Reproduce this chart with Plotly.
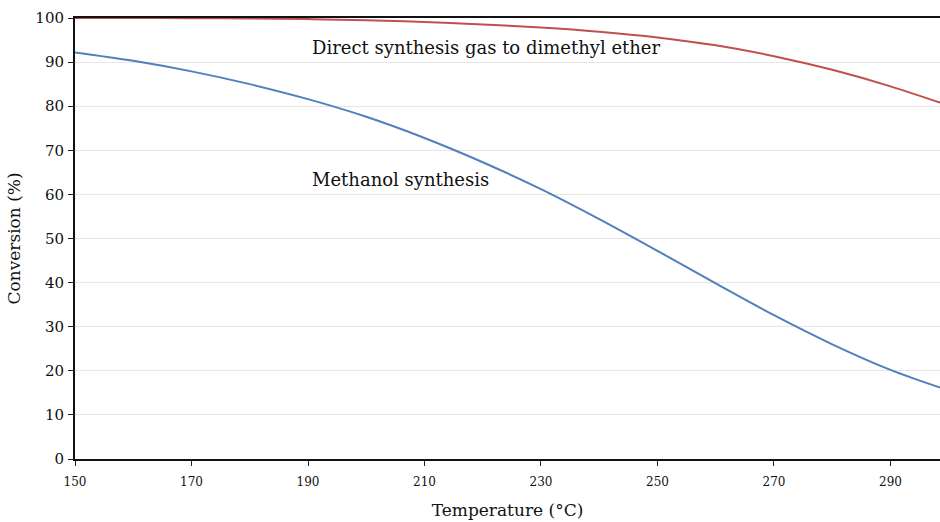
import plotly.graph_objects as go

# Temperature (°C) and conversion (%) for the two processes
temperature_c = [150, 160, 170, 180, 190, 200, 210, 220, 230, 240, 250, 260, 270, 280, 290, 298.5]
methanol_conv = [92.2, 90.3, 87.9, 85.0, 81.6, 77.6, 72.8, 67.3, 61.2, 54.4, 47.2, 39.8, 32.6, 26.0, 20.2, 16.2]
dme_conv = [100.0, 99.99, 99.96, 99.9, 99.75, 99.5, 99.1, 98.55, 97.85, 96.9, 95.6, 93.8, 91.35, 88.25, 84.5, 80.8]

x_ticks = [150, 170, 190, 210, 230, 250, 270, 290]
y_ticks = [0, 10, 20, 30, 40, 50, 60, 70, 80, 90, 100]

FONT = "DejaVu Serif"

fig = go.Figure()
fig.add_trace(go.Scatter(
    x=temperature_c, y=dme_conv, mode="lines",
    line=dict(color="#c0504d", width=2, shape="spline", smoothing=1.0),
    name="Direct synthesis gas to dimethyl ether", showlegend=False,
))
fig.add_trace(go.Scatter(
    x=temperature_c, y=methanol_conv, mode="lines",
    line=dict(color="#4f81bd", width=2, shape="spline", smoothing=1.0),
    name="Methanol synthesis", showlegend=False,
))

fig.add_annotation(x=190.3, y=93.4, text="Direct synthesis gas to dimethyl ether",
                   showarrow=False, xanchor="left", yanchor="middle",
                   font=dict(family=FONT, size=18, color="#111"))
fig.add_annotation(x=190.3, y=63.3, text="Methanol synthesis",
                   showarrow=False, xanchor="left", yanchor="middle",
                   font=dict(family=FONT, size=18, color="#111"))

fig.update_layout(
    width=940, height=522,
    margin=dict(l=75, r=0, t=18, b=63),
    paper_bgcolor="white", plot_bgcolor="white",
    font=dict(family=FONT, color="#111"),
)
fig.update_xaxes(
    range=[150, 298.5], tickvals=x_ticks, ticks="outside", ticklen=5,
    tickcolor="#222", tickwidth=1, showgrid=False, zeroline=False,
    showline=True, linecolor="#111", linewidth=2, mirror=True,
    tickfont=dict(family=FONT, size=12), ticklabelstandoff=6,
    title=dict(text="Temperature (°C)", font=dict(family=FONT, size=17), standoff=16),
)
fig.update_yaxes(
    range=[0, 100], tickvals=y_ticks, ticks="outside", ticklen=5,
    tickcolor="#222", tickwidth=1, showgrid=True, gridcolor="#e6e6e6", gridwidth=1,
    zeroline=False, showline=True, linecolor="#111", linewidth=2,
    tickfont=dict(family=FONT, size=15), ticklabelstandoff=1,
    title=dict(text="Conversion (%)", font=dict(family=FONT, size=17), standoff=10),
)

fig.write_html("out.html")
